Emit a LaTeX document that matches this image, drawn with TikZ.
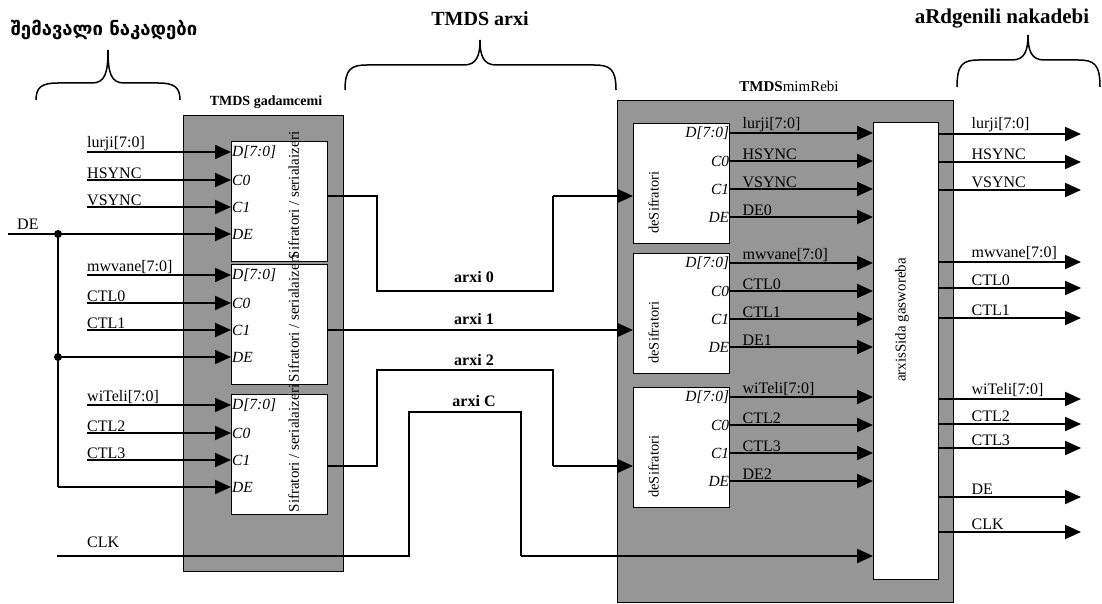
\documentclass[tikz,border=0pt]{standalone}
\usepackage{fontspec}
\setmainfont{Liberation Serif}
\newfontfamily\geofont{DejaVu Sans}
\usetikzlibrary{arrows.meta, positioning, calc}

\definecolor{boxgray}{RGB}{150,150,150}

\newcommand{\fsz}[1]{\fontsize{#1}{#1}\selectfont}
% curly brace: x-left, x-tip, x-right, y-ends, y-bar, y-tip
\newcommand{\curlybrace}[6]{%
  \draw[bracepath] (#1,#4) .. controls (#1,#5+4) and (#1+6,#5) .. (#1+22,#5)
    -- (#2-16,#5) .. controls (#2-3,#5) and (#2,#5-10) .. (#2,#6)
    .. controls (#2,#5-10) and (#2+3,#5) .. (#2+16,#5)
    -- (#3-22,#5) .. controls (#3-6,#5) and (#3,#5+4) .. (#3,#4);}

\begin{document}
\begin{tikzpicture}[x=1pt, y=-1pt,
  graybox/.style={draw, line width=1.4pt, fill=boxgray, inner sep=0pt},
  unit/.style={draw, line width=1.4pt, fill=white, minimum width=96pt,
               minimum height=120pt, inner sep=0pt},
  sig/.style={font=\fsz{16}, inner sep=0pt},
  port/.style={font=\fsz{15.5}\itshape, inner sep=1pt},
  chan/.style={font=\fsz{16}\bfseries, inner sep=0pt},
  title/.style={font=\fsz{21}\bfseries, inner sep=0pt},
  vtext/.style={font=\fsz{15}, rotate=90, inner sep=0pt},
  bracepath/.style={line width=1.5pt},
  wire/.style={line width=2pt},
  link/.style={line width=1.3pt},
  arrow/.style={wire, -{Triangle[length=16pt, width=14pt]}},
  dot/.style={circle, fill, inner sep=0pt, minimum size=8pt},
]
  \useasboundingbox (0,0) rectangle (1102,604);

  % headings and braces
  \node[font=\geofont\fsz{18.5}\bfseries, inner sep=0pt] (tIn) at (104,30) {შემავალი ნაკადები};
  \node[title, font=\fsz{20}\bfseries] (tLink) at (480,19) {TMDS arxi};
  \node[title] (tOut) at (1002,19) {aRdgenili nakadebi};
  \curlybrace{36}{108}{180}{100}{83}{50}
  \curlybrace{345}{480}{616}{90}{65}{40}
  \curlybrace{957}{1028}{1100}{87}{60}{35}

  % transmitter
  \node[graybox, anchor=north west, minimum width=160pt, minimum height=456pt] (tx) at (183,115) {};
  \node[font=\fsz{14}\bfseries, inner sep=0pt] (txname) at (266,102) {TMDS gadamcemi};
  \foreach \n/\top in {1/141, 2/264, 3/394} {
    \node[unit, anchor=north west] (ser\n) at (231,\top) {};
    \node[vtext, anchor=west] (serlbl\n) at ($(ser\n.south)+(14,-3)$) {Sifratori / serialaizeri};
    \foreach \p/\dy/\txt in {D/11/D[7:0], C0/39/C0, C1/66/C1, DE/93/DE}
      \node[port, anchor=west] (ser\n\p) at ($(ser\n.north west)+(0,\dy)$) {\txt};
  }

  \foreach \n/\a/\b/\c in {1/lurji[7:0]/HSYNC/VSYNC, 2/mwvane[7:0]/CTL0/CTL1, 3/wiTeli[7:0]/CTL2/CTL3} {
    \foreach \p/\txt in {D/\a, C0/\b, C1/\c} {
      \coordinate (in\n\p) at (87,0 |- ser\n\p.west);
      \node[sig, above right=1pt and 0pt of in\n\p] (lbl\n\p) {\txt};
      \draw[arrow] (in\n\p) -- (ser\n\p.west);
    }
  }

  % DE fan-out
  \coordinate (deIn) at (8,0 |- ser1DE.west);
  \node[sig, above right=4pt and 9pt of deIn] (lblDE) {DE};
  \node[dot] (deJ1) at (58,0 |- ser1DE.west) {};
  \node[dot] (deJ2) at (58,0 |- ser2DE.west) {};
  \coordinate (deCorner) at (58,0 |- ser3DE.west);
  \draw[arrow] (deIn) -- (ser1DE.west);
  \draw[link] (deJ1.center) -- (deCorner);
  \draw[arrow] (deJ2.center) -- (ser2DE.west);
  \draw[arrow] (deCorner) -- (ser3DE.west);

  % receiver
  \node[graybox, anchor=north west, minimum width=336pt, minimum height=502pt] (rx) at (617,100) {};
  \node[font=\fsz{15}, inner sep=0pt] (rxname) at (789,86) {\textbf{TMDS}mimRebi};
  \foreach \n/\top in {1/123, 2/253, 3/387} {
    \node[unit, anchor=north west] (des\n) at (633,\top) {};
    \node[vtext, font=\fsz{14.5}] (deslbl\n) at ($(des\n.center)+(-28,19)$) {deSifratori};
    \foreach \p/\dy/\txt in {D/10/D[7:0], C0/38/C0, C1/66/C1, DE/94/DE}
      \node[port, anchor=east] (des\n\p) at ($(des\n.north east)+(0,\dy)$) {\txt};
  }
  \node[unit, anchor=north west, minimum width=65pt, minimum height=457pt] (arb) at (873,122) {};
  \node[vtext] (arblbl) at (902,320) {arxisSida gasworeba};

  \foreach \n/\a/\b/\c/\d in {1/lurji[7:0]/HSYNC/VSYNC/DE0, 2/mwvane[7:0]/CTL0/CTL1/DE1, 3/wiTeli[7:0]/CTL2/CTL3/DE2} {
    \foreach \p/\txt in {D/\a, C0/\b, C1/\c, DE/\d} {
      \node[sig, above right=1pt and 12pt of des\n\p.east] (rlbl\n\p) {\txt};
      \draw[arrow] (des\n\p.east) -- (arb.west |- des\n\p.east);
    }
  }

  % channels
  \coordinate (ser1out) at (ser1.east |- 0,196);
  \coordinate (ser2out) at (ser2.east |- 0,330);
  \coordinate (ser3out) at (ser3.east |- 0,466);
  \coordinate (des1in) at (des1.west |- 0,196);
  \coordinate (des2in) at (des2.west |- 0,330);
  \coordinate (des3in) at (des3.west |- 0,466);

  \coordinate (ch0a) at (377,291);
  \coordinate (ch0b) at (553,291);
  \coordinate (ch0c) at (ch0b |- des1in);
  \draw[link] (ser1out) -| (ch0a) -- (ch0b) -- (ch0c);
  \draw[arrow] (ch0c) -- (des1in);

  \draw[arrow] (ser2out) -- (des2in);

  \coordinate (ch2a) at (377,370);
  \coordinate (ch2b) at (553,370);
  \coordinate (ch2c) at (ch2b |- des3in);
  \draw[link] (ser3out) -| (ch2a) -- (ch2b) -- (ch2c);
  \draw[arrow] (ch2c) -- (des3in);

  \coordinate (clkIn) at (57,556);
  \node[sig, above right=8pt and 30pt of clkIn] (lblCLK) {CLK};
  \coordinate (chCa) at (409,412);
  \coordinate (chCb) at (521,412);
  \coordinate (chCc) at (521,556);
  \draw[link] (clkIn) -| (chCa) -- (chCb) -- (chCc);
  \draw[arrow] (chCc) -- (arb.west |- chCc);

  \node[chan] (ch0lbl) at (474,277) {arxi 0};
  \node[chan] (ch1lbl) at (474,319) {arxi 1};
  \node[chan] (ch2lbl) at (474,360) {arxi 2};
  \node[chan] (chClbl) at (474,401) {arxi C};

  % recovered outputs
  \foreach \y/\txt in {134/lurji[7:0], 162/HSYNC, 190/VSYNC, 262/mwvane[7:0], 288/CTL0,
                       318/CTL1, 399/wiTeli[7:0], 424/CTL2, 448/CTL3, 497/DE, 532/CLK} {
    \coordinate (out\y) at (1081,\y);
    \coordinate (src\y) at (arb.east |- out\y);
    \node[sig, above right=2pt and 32pt of src\y] (olbl\y) {\txt};
    \draw[arrow] (src\y) -- (out\y);
  }
\end{tikzpicture}
\end{document}
